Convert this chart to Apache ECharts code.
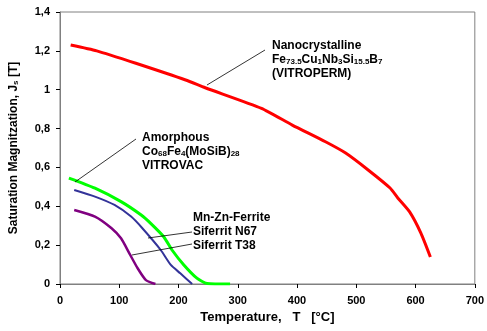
<!DOCTYPE html>
<html>
<head>
<meta charset="utf-8">
<script src="https://cdn.jsdelivr.net/npm/echarts@6/dist/echarts.min.js"></script>
<style>
html, body { margin: 0; padding: 0; background: #fff; }
#main { width: 487px; height: 331px; }
</style>
</head>
<body>
<div id="main"></div>
<script>
// 读图得到的数据 (T in °C, Js in T)
var xTicks = [0, 100, 200, 300, 400, 500, 600, 700];
var yTicks = [0, 0.2, 0.4, 0.6, 0.8, 1, 1.2, 1.4];

var nanoT = [18, 62, 128, 212, 245, 340, 392, 448, 482, 520, 557, 570, 590, 609, 625];
var nanoJ = [1.23, 1.20, 1.136, 1.05, 1.01, 0.904, 0.818, 0.732, 0.674, 0.587, 0.494, 0.443, 0.371, 0.262, 0.139];

var amorT = [15, 59, 103, 137, 153, 175, 189, 209, 231, 248, 287];
var amorJ = [0.545, 0.493, 0.424, 0.355, 0.312, 0.243, 0.175, 0.098, 0.03, 0.003, 0];

var n67T = [24, 59, 92, 120, 139, 170, 187, 203, 223];
var n67J = [0.484, 0.45, 0.407, 0.347, 0.287, 0.175, 0.098, 0.055, 0];

var t38T = [24, 59, 87, 103, 117, 131, 145, 161];
var t38J = [0.381, 0.347, 0.287, 0.235, 0.158, 0.081, 0.02, 0];

function pairs(xs, ys) {
	var d = [];
	for (var i = 0; i < xs.length; i++) {
		d.push([xs[i], ys[i]]);
	}
	return d;
}

var font = 'Liberation Sans, Arial, sans-serif';
var richTxt = {
	m: { fontSize: 12, fontWeight: 'bold', fontFamily: font, color: '#000', lineHeight: 14, verticalAlign: 'bottom' },
	s: { fontSize: 8, fontWeight: 'bold', fontFamily: font, color: '#000', lineHeight: 12, verticalAlign: 'bottom' }
};

var dom = document.getElementById('main');
var myChart = echarts.init(dom);

function curve(name, xs, ys, color, w) {
	return {
		name: name, type: 'line', smooth: 0.2, showSymbol: false,
		data: pairs(xs, ys), lineStyle: { color: color, width: w }
	};
}

var option = {
	animation: false,
	grid: { left: 58, right: 10, top: 12, bottom: 47, show: true, borderColor: '#808080', borderWidth: 1 },
	xAxis: {
		type: 'value', min: 0, max: 700, interval: 100,
		name: 'Temperature,   T   [°C]',
		nameLocation: 'middle', nameGap: 21,
		nameTextStyle: { fontSize: 13, fontWeight: 'bold', fontFamily: font, color: '#000' },
		axisLine: { lineStyle: { color: '#808080', width: 1 } },
		axisTick: { show: true, length: 4, lineStyle: { color: '#000' } },
		axisLabel: { margin: 11, fontSize: 11, fontWeight: 'bold', fontFamily: font, color: '#000' },
		splitLine: { show: false }
	},
	yAxis: {
		type: 'value', min: 0, max: 1.4, interval: 0.2,
		name: '{m|Saturation Magnitzation, J}{s|s}{m| [T]}',
		nameLocation: 'middle', nameGap: 40,
		nameTextStyle: { rich: richTxt },
		axisLine: { show: true, lineStyle: { color: '#808080', width: 1 } },
		axisTick: { show: true, length: 4, lineStyle: { color: '#000' } },
		axisLabel: {
			margin: 10, fontSize: 11, fontWeight: 'bold', fontFamily: font, color: '#000',
			formatter: function (v) { return String(Math.round(v * 10) / 10).replace('.', ','); }
		},
		splitLine: { show: false }
	},
	series: [
		curve('Nanocrystalline', nanoT, nanoJ, '#ff0000', 3),
		curve('Amorphous', amorT, amorJ, '#00ff00', 3),
		curve('Siferrit N67', n67T, n67J, '#333399', 2),
		curve('Siferrit T38', t38T, t38J, '#800080', 2.5)
	],
	graphic: [
		// 引线
		{ type: 'line', shape: { x1: 207, y1: 85, x2: 265, y2: 50 }, style: { stroke: '#000', lineWidth: 0.8 }, z: 10 },
		{ type: 'line', shape: { x1: 75, y1: 182, x2: 136, y2: 139 }, style: { stroke: '#000', lineWidth: 0.8 }, z: 10 },
		{ type: 'line', shape: { x1: 148, y1: 238, x2: 192, y2: 232 }, style: { stroke: '#000', lineWidth: 0.8 }, z: 10 },
		{ type: 'line', shape: { x1: 132, y1: 255, x2: 192, y2: 244 }, style: { stroke: '#000', lineWidth: 0.8 }, z: 10 },
		// 标注文字
		{ type: 'text', x: 272, y: 38, z: 10, style: {
			text: '{m|Nanocrystalline}\n{m|Fe}{s|73.5}{m|Cu}{s|1}{m|Nb}{s|3}{m|Si}{s|15.5}{m|B}{s|7}\n{m|(VITROPERM)}',
			rich: richTxt } },
		{ type: 'text', x: 142, y: 130, z: 10, style: {
			text: '{m|Amorphous}\n{m|Co}{s|68}{m|Fe}{s|4}{m|(MoSiB)}{s|28}\n{m|VITROVAC}',
			rich: richTxt } },
		{ type: 'text', x: 193, y: 210, z: 10, style: {
			text: '{m|Mn-Zn-Ferrite}\n{m|Siferrit N67}\n{m|Siferrit T38}',
			rich: richTxt } }
	]
};

myChart.setOption(option);
</script>
</body>
</html>
